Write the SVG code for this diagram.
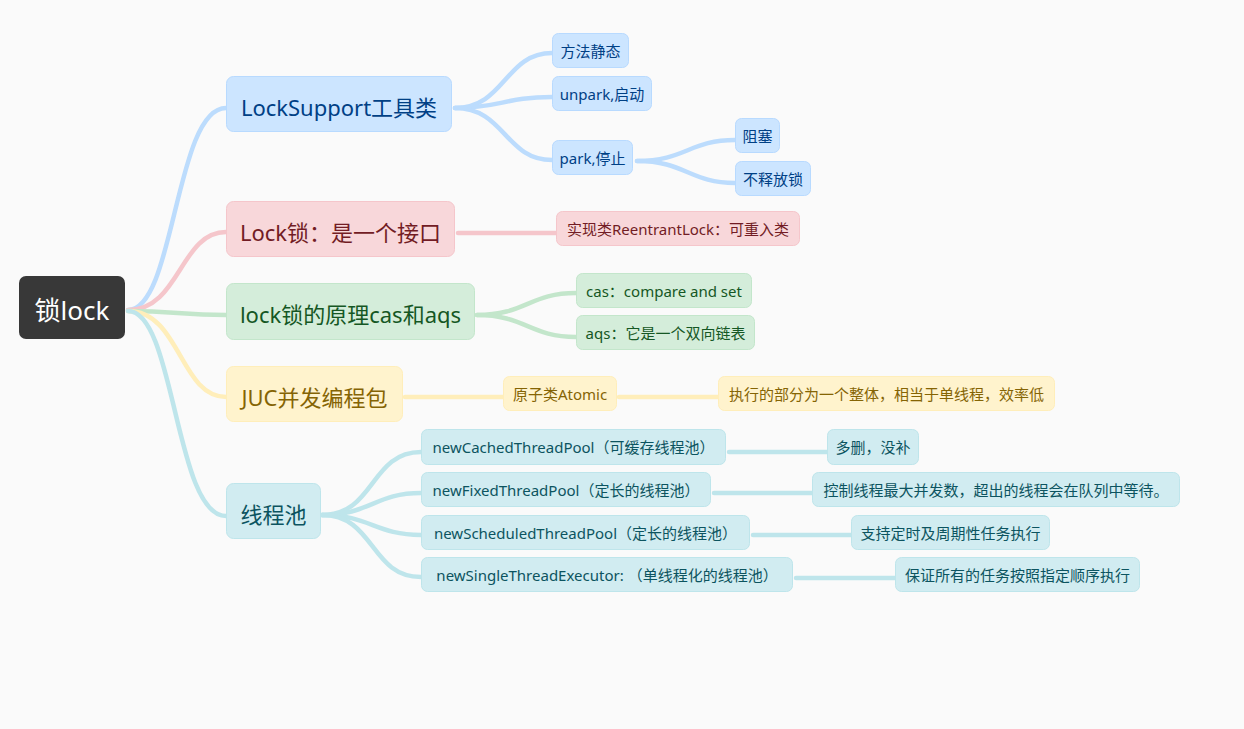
<svg xmlns="http://www.w3.org/2000/svg" width="1244" height="729" viewBox="0 0 1244 729">
<style>
text{font-family:"Noto Sans","Noto Sans CJK SC",sans-serif;text-anchor:middle}
.l1{font-size:22px}
.l2{font-size:15px}
.c{fill:none;stroke-width:4.5;stroke-linecap:round}
.b rect{fill:#cce5ff;stroke:#b8daff}.b text{fill:#004085}.cb{stroke:#bcdcfd}
.r rect{fill:#f8d7da;stroke:#f5c6cb}.r text{fill:#721c24}.cr{stroke:#f5c6cb}
.g rect{fill:#d4edda;stroke:#c3e6cb}.g text{fill:#155724}.cg{stroke:#c3e6cb}
.y rect{fill:#fff3cd;stroke:#ffeeba}.y text{fill:#856404}.cy{stroke:#ffeeba}
.t rect{fill:#d1ecf1;stroke:#bee5eb}.t text{fill:#0c5460}.ct{stroke:#bee5eb}
</style>
<rect width="1244" height="729" fill="#fafafa"/>
<g id="connectors">
<path class="c cb" d="M128,310 C175,310 175,108 226,108"/>
<path class="c cr" d="M128,310 C180,310 180,232 226,232"/>
<path class="c cg" d="M128,311 C175,311 180,315 226,315"/>
<path class="c cy" d="M128,311 C180,311 180,397 226,397"/>
<path class="c ct" d="M128,311 C175,311 175,516 226,516"/>
<path class="c cb" d="M455,108 C505,108 505,53 552,53"/>
<path class="c cb" d="M455,108 C500,108 505,97 552,97"/>
<path class="c cb" d="M455,108 C505,108 505,160 552,160"/>
<path class="c cb" d="M637,161 C685,161 690,140 735,140"/>
<path class="c cb" d="M637,161 C685,161 690,183 735,183"/>
<path class="c cr" d="M458,233 L556,233"/>
<path class="c cg" d="M477,315 C525,315 530,293 576,293"/>
<path class="c cg" d="M477,315 C525,315 530,337 576,337"/>
<path class="c cy" d="M405,397 L503,397"/>
<path class="c cy" d="M619,397 L718,397"/>
<path class="c ct" d="M322,515 C375,515 370,452 421,452"/>
<path class="c ct" d="M322,515 C370,515 375,493 421,493"/>
<path class="c ct" d="M322,515 C370,515 375,535 421,535"/>
<path class="c ct" d="M322,515 C375,515 370,577 421,577"/>
<path class="c ct" d="M729,452 L827,452"/>
<path class="c ct" d="M714,493 L812,493"/>
<path class="c ct" d="M753,535 L851,535"/>
<path class="c ct" d="M796,578 L895,578"/>
</g>
<g id="root"><rect x="19" y="276" width="106" height="63" rx="7" fill="#383838"/><text x="72" y="320" font-size="26" fill="#ffffff">锁lock</text></g>
<g id="n-locksupport" class="b"><rect x="226.5" y="76.5" width="225" height="55" rx="7"/><text class="l1" x="339" y="116">LockSupport工具类</text></g>
<g id="n-static" class="b"><rect x="552.5" y="33.5" width="76" height="34" rx="6"/><text class="l2" x="590.5" y="56.5">方法静态</text></g>
<g id="n-unpark" class="b"><rect x="552.5" y="76.5" width="99" height="34" rx="6"/><text class="l2" x="602" y="99.5">unpark,启动</text></g>
<g id="n-park" class="b"><rect x="552.5" y="140.5" width="80" height="34" rx="6"/><text class="l2" x="592.5" y="163.5">park,停止</text></g>
<g id="n-block" class="b"><rect x="735.5" y="118.5" width="44" height="34" rx="6"/><text class="l2" x="757.5" y="141.5">阻塞</text></g>
<g id="n-norelease" class="b"><rect x="735.5" y="161.5" width="75" height="34" rx="6"/><text class="l2" x="773" y="184.5">不释放锁</text></g>
<g id="n-lock" class="r"><rect x="226.5" y="201.5" width="228" height="55" rx="7"/><text class="l1" x="340.5" y="241">Lock锁：是一个接口</text></g>
<g id="n-reentrant" class="r"><rect x="556.5" y="211.5" width="243" height="34" rx="6"/><text class="l2" x="678" y="234.5">实现类ReentrantLock：可重入类</text></g>
<g id="n-principle" class="g"><rect x="226.5" y="283.5" width="248" height="56" rx="7"/><text class="l1" x="350.5" y="323">lock锁的原理cas和aqs</text></g>
<g id="n-cas" class="g"><rect x="576.5" y="273.5" width="175" height="34" rx="6"/><text class="l2" x="664" y="296.5">cas：compare and set</text></g>
<g id="n-aqs" class="g"><rect x="576.5" y="315.5" width="178" height="34" rx="6"/><text class="l2" x="665.5" y="338.5">aqs：它是一个双向链表</text></g>
<g id="n-juc" class="y"><rect x="226.5" y="366.5" width="176" height="55" rx="7"/><text class="l1" x="314.5" y="406">JUC并发编程包</text></g>
<g id="n-atomic" class="y"><rect x="503.5" y="376.5" width="113" height="34" rx="6"/><text class="l2" x="560" y="399.5">原子类Atomic</text></g>
<g id="n-whole" class="y"><rect x="718.5" y="376.5" width="336" height="34" rx="6"/><text class="l2" x="886.5" y="399.5">执行的部分为一个整体，相当于单线程，效率低</text></g>
<g id="n-pool" class="t"><rect x="226.5" y="483.5" width="94" height="55" rx="7"/><text class="l1" x="273.5" y="523">线程池</text></g>
<g id="n-cached" class="t"><rect x="421.5" y="429.5" width="304" height="35" rx="6"/><text class="l2" x="573.5" y="453">newCachedThreadPool（可缓存线程池）</text></g>
<g id="n-fixed" class="t"><rect x="421.5" y="472.5" width="289" height="34" rx="6"/><text class="l2" x="566" y="495.5">newFixedThreadPool（定长的线程池）</text></g>
<g id="n-scheduled" class="t"><rect x="421.5" y="515.5" width="328" height="34" rx="6"/><text class="l2" x="585.5" y="538.5">newScheduledThreadPool（定长的线程池）</text></g>
<g id="n-single" class="t"><rect x="421.5" y="557.5" width="371" height="34" rx="6"/><text class="l2" x="607" y="580.5">newSingleThreadExecutor: （单线程化的线程池）</text></g>
<g id="n-cached-d" class="t"><rect x="827.5" y="429.5" width="91" height="35" rx="6"/><text class="l2" x="873" y="453">多删，没补</text></g>
<g id="n-fixed-d" class="t"><rect x="812.5" y="472.5" width="367" height="34" rx="6"/><text class="l2" x="996" y="495.5">控制线程最大并发数，超出的线程会在队列中等待。</text></g>
<g id="n-scheduled-d" class="t"><rect x="851.5" y="515.5" width="198" height="34" rx="6"/><text class="l2" x="950.5" y="538.5">支持定时及周期性任务执行</text></g>
<g id="n-single-d" class="t"><rect x="895.5" y="557.5" width="244" height="34" rx="6"/><text class="l2" x="1017.5" y="580.5">保证所有的任务按照指定顺序执行</text></g>
</svg>
